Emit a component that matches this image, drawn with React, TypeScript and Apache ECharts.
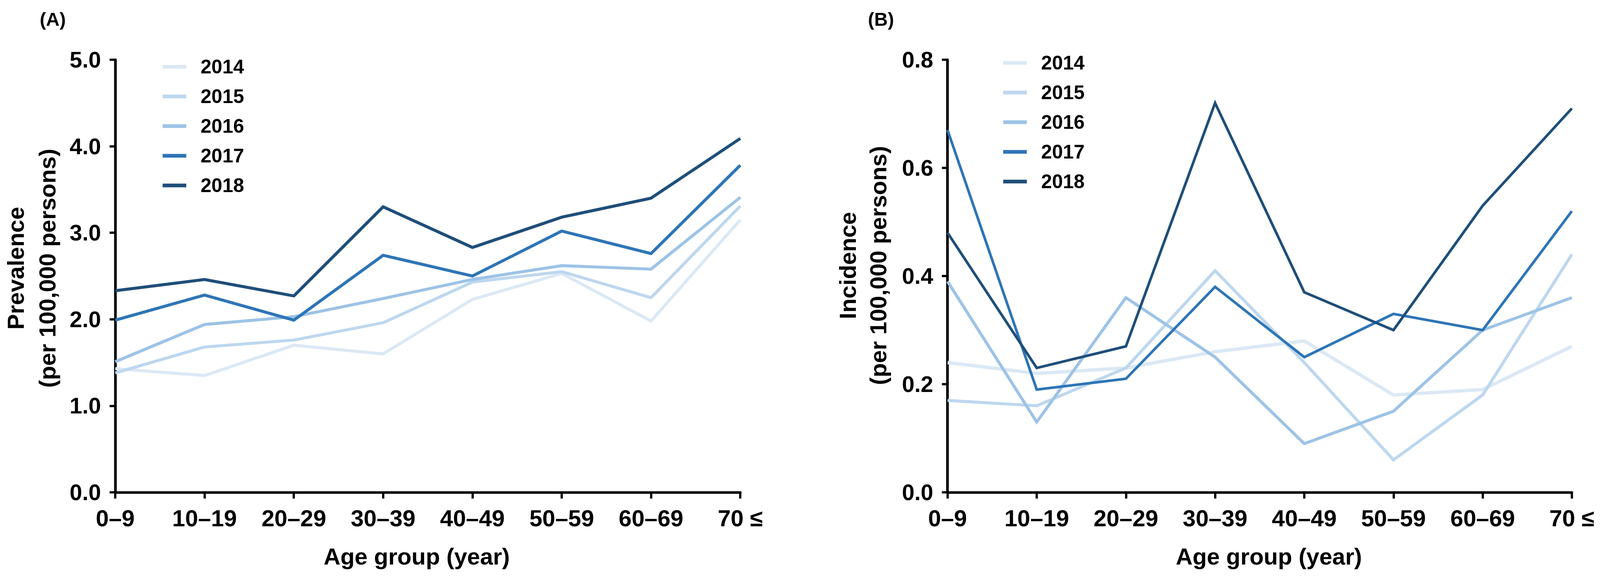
import React, { useEffect, useRef, useState } from "react";
import * as echarts from "echarts";

const ageGroups = ["0–9", "10–19", "20–29", "30–39", "40–49", "50–59", "60–69", "70 ≤"];
const years = ["2014", "2015", "2016", "2017", "2018"];
const yearColors = ["#dbe8f5", "#bdd7ee", "#9dc3e6", "#2e75b6", "#1f4e79"];

// Panel A: prevalence per 100,000 persons
const prev2014 = [1.43, 1.35, 1.70, 1.60, 2.23, 2.53, 1.98, 3.15];
const prev2015 = [1.38, 1.68, 1.76, 1.96, 2.43, 2.55, 2.25, 3.31];
const prev2016 = [1.51, 1.94, 2.03, 2.24, 2.46, 2.62, 2.58, 3.41];
const prev2017 = [1.99, 2.28, 1.99, 2.74, 2.50, 3.02, 2.76, 3.78];
const prev2018 = [2.33, 2.46, 2.27, 3.30, 2.83, 3.18, 3.40, 4.09];

// Panel B: incidence per 100,000 persons
const inc2014 = [0.24, 0.22, 0.23, 0.26, 0.28, 0.18, 0.19, 0.27];
const inc2015 = [0.17, 0.16, 0.23, 0.41, 0.24, 0.06, 0.18, 0.44];
const inc2016 = [0.39, 0.13, 0.36, 0.25, 0.09, 0.15, 0.30, 0.36];
const inc2017 = [0.67, 0.19, 0.21, 0.38, 0.25, 0.33, 0.30, 0.52];
const inc2018 = [0.48, 0.23, 0.27, 0.72, 0.37, 0.30, 0.53, 0.71];

const prevTicks = { min: 0, max: 5, interval: 1 };
const incTicks = { min: 0, max: 0.8, interval: 0.2 };

const prevalence = [prev2014, prev2015, prev2016, prev2017, prev2018];
const incidence = [inc2014, inc2015, inc2016, inc2017, inc2018];

const FONT = "'Liberation Sans', Arial, Helvetica, sans-serif";
const REF_W = 4262;
const REF_H = 1483;

function buildOption(W: number, H: number) {
  const sx = W / REF_W;
  const sy = H / REF_H;
  const sf = Math.min(sx, sy);
  const X = (v: number) => v * sx;
  const Y = (v: number) => v * sy;
  const F = (v: number) => v * sf;

  const xAxisCfg = (gridIndex: number) => ({
    gridIndex,
    type: "category",
    data: ageGroups,
    boundaryGap: false,
    axisLine: { show: true, lineStyle: { color: "#000", width: F(7) } },
    axisTick: { show: true, length: Y(16), lineStyle: { color: "#000", width: F(6) } },
    axisLabel: {
      show: true,
      interval: 0,
      margin: Y(36),
      color: "#000",
      fontSize: F(62),
      fontWeight: "bold",
      fontFamily: FONT,
      hideOverlap: false,
    },
    splitLine: { show: false },
  });

  const yAxisCfg = (gridIndex: number, t: { min: number; max: number; interval: number }) => ({
    gridIndex,
    type: "value",
    min: t.min,
    max: t.max,
    interval: t.interval,
    axisLine: { show: true, lineStyle: { color: "#000", width: F(7) } },
    axisTick: { show: true, length: X(15), lineStyle: { color: "#000", width: F(6) } },
    axisLabel: {
      show: true,
      margin: X(38),
      color: "#000",
      fontSize: F(60),
      fontWeight: "bold",
      fontFamily: FONT,
      formatter: (v: number) => v.toFixed(1),
      showMinLabel: true,
      showMaxLabel: true,
    },
    splitLine: { show: false },
  });

  const legendCfg = (left: number, top: number) => ({
    orient: "vertical",
    left: X(left),
    top: Y(top),
    icon: "rect",
    itemWidth: X(63),
    itemHeight: F(10),
    itemGap: Y(24),
    selectedMode: false,
    data: years,
    textStyle: {
      fontSize: F(52),
      fontWeight: "bold",
      color: "#000",
      fontFamily: FONT,
      lineHeight: Y(52),
      padding: [0, 0, 0, X(33)],
    },
  });

  const txt = (x: number, y: number, text: string, size: number, rotation = 0, align = "center") => ({
    type: "text",
    x: X(x),
    y: Y(y),
    rotation,
    silent: true,
    style: {
      text,
      fill: "#000",
      fontSize: F(size),
      fontWeight: "bold",
      fontFamily: FONT,
      align,
      verticalAlign: "middle",
      textAlign: align,
      textVerticalAlign: "middle",
    },
  });

  const series: any[] = [];
  years.forEach((y, i) => {
    series.push({
      name: y,
      type: "line",
      xAxisIndex: 0,
      yAxisIndex: 0,
      data: prevalence[i],
      showSymbol: false,
      symbol: "none",
      color: yearColors[i],
      itemStyle: { color: yearColors[i] },
      lineStyle: { color: yearColors[i], width: F(8), join: "miter" },
      z: 2 + i,
    });
  });
  const incWidths = [9, 8, 8, 7, 7];
  years.forEach((y, i) => {
    series.push({
      name: y,
      type: "line",
      xAxisIndex: 1,
      yAxisIndex: 1,
      data: incidence[i],
      showSymbol: false,
      symbol: "none",
      color: yearColors[i],
      itemStyle: { color: yearColors[i] },
      lineStyle: { color: yearColors[i], width: F(incWidths[i]), join: "miter" },
      z: 2 + i,
    });
  });

  return {
    animation: false,
    backgroundColor: "#fff",
    grid: [
      { left: X(307), right: W - X(1972), top: Y(153), bottom: H - Y(1261), containLabel: false, outerBoundsMode: "none" },
      { left: X(2524), right: W - X(4187), top: Y(153), bottom: H - Y(1261), containLabel: false, outerBoundsMode: "none" },
    ],
    xAxis: [xAxisCfg(0), xAxisCfg(1)],
    yAxis: [yAxisCfg(0, prevTicks), yAxisCfg(1, incTicks)],
    legend: [legendCfg(428, 140), legendCfg(2667, 130)],
    series,
    graphic: [
      txt(106, 49, "(A)", 50, 0, "left"),
      txt(2312, 49, "(B)", 50, 0, "left"),
      txt(42, 687, "Prevalence", 62, Math.PI / 2),
      txt(126, 687, "(per 100,000 persons)", 62, Math.PI / 2),
      txt(2258, 680, "Incidence", 62, Math.PI / 2),
      txt(2340, 680, "(per 100,000 persons)", 62, Math.PI / 2),
      txt(1110, 1425, "Age group (year)", 62),
      txt(3380, 1425, "Age group (year)", 62),
    ],
  };
}

function viewportSize() {
  const de = document.documentElement;
  const w = Math.min(window.innerWidth || REF_W, de.clientWidth || REF_W) || REF_W;
  const h = Math.min(window.innerHeight || REF_H, de.clientHeight || REF_H) || REF_H;
  return { w, h };
}

export default function App() {
  const ref = useRef<HTMLDivElement>(null);
  const [size] = useState(() => {
    document.documentElement.style.overflow = "hidden";
    document.body.style.margin = "0";
    document.body.style.overflow = "hidden";
    return viewportSize();
  });

  useEffect(() => {
    if (!ref.current) return;
    const chart = echarts.init(ref.current, undefined, { renderer: "svg" });
    chart.setOption(buildOption(size.w, size.h));
    return () => chart.dispose();
  }, [size]);

  return (
    <div
      ref={ref}
      style={{ position: "absolute", left: 0, top: 0, width: size.w, height: size.h, background: "#fff" }}
    />
  );
}
